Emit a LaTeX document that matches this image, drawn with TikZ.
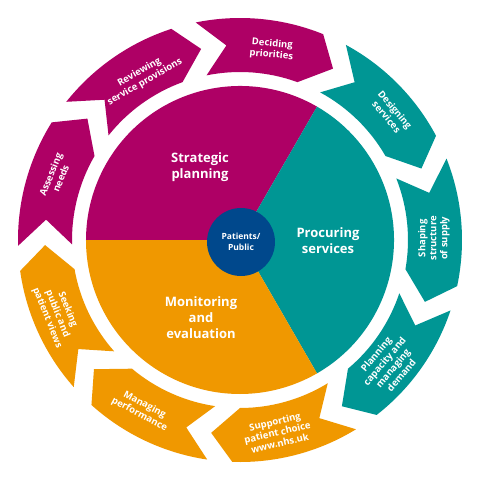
\documentclass[tikz,border=0pt]{standalone}
\usepackage{fontspec}
\setmainfont{Open Sans}
\usetikzlibrary{shapes.geometric}
\definecolor{planmagenta}{RGB}{174, 0, 101}
\definecolor{procteal}{RGB}{0, 150, 148}
\definecolor{monorange}{RGB}{240, 152, 0}
\definecolor{patientblue}{RGB}{0, 72, 140}
\tikzset{
ringtext/.style={
  align=center,
  text=white,
  inner sep=0pt,
  font=\bfseries\fontsize{9.5}{11}\selectfont
},
pietext/.style={
  align=center,
  text=white,
  font=\bfseries\fontsize{13}{16}\selectfont
},
patientdisc/.style={
  circle,
  fill=patientblue,
  minimum size=68pt,
  inner sep=0pt,
  align=center,
  text=white,
  font=\bfseries\fontsize{8.5}{10.5}\selectfont
}
}

\begin{document}
\begin{tikzpicture}[x=1pt, y=1pt,
    sector/.style={fill=#1},
    chevron/.style={fill=#1}
  ]
  \useasboundingbox (-240,-240) rectangle (240,240);
  \fill[white] (-240,-240) rectangle (240,240);

  \fill[sector=planmagenta] (0,0) -- (60:154) arc[start angle=60, end angle=180, radius=154pt] -- cycle;
  \fill[sector=procteal] (0,0) -- (-60:154) arc[start angle=-60, end angle=60, radius=154pt] -- cycle;
  \fill[sector=monorange] (0,0) -- (180:154) arc[start angle=180, end angle=300, radius=154pt] -- cycle;

  \foreach \a/\c in {100/planmagenta, 60/procteal, 20/procteal, -20/procteal,
                     -60/monorange, -100/monorange, -140/monorange,
                     180/planmagenta, 140/planmagenta}
    \fill[chevron=\c] ({\a+1.5}:222) -- ({\a-6}:195) -- ({\a+1.5}:168)
      arc[start angle=\a+1.5, end angle=\a-30, radius=168pt]
      -- ({\a-38.5}:195) -- ({\a-32}:222)
      arc[start angle=\a-32, end angle=\a+1.5, radius=222pt] -- cycle;

  \node[pietext] (strategic) at (-40,73) {Strategic\\planning};
  \node[pietext] (procuring) at (88,-1) {Procuring\\services};
  \node[pietext] (monitoring) at (-39,-78) {Monitoring\\and\\evaluation};
  \node[patientdisc] (patients) at (1,-2) {Patients/\\Public};

  \node[ringtext, rotate=-5]  (deciding)   at (80.5:193) {Deciding\\priorities};
  \node[ringtext, rotate=-50] (designing)  at (40:197)   {Designing\\services};
  \node[ringtext, rotate=90]  (shaping)    at (0.5:194)  {Shaping\\structure\\of supply};
  \node[ringtext, rotate=50]  (capacity)   at (-40:194)  {Planning\\capacity and\\managing\\demand};
  \node[ringtext, rotate=13]  (supporting) at (-79:196)  {Supporting\\patient choice\\www.nhs.uk};
  \node[ringtext, rotate=-28] (managing)   at (-120:196) {Managing\\performance};
  \node[ringtext, rotate=-68] (seeking)    at (-158:197) {Seeking\\public and\\patient views};
  \node[ringtext, rotate=68]  (assessing)  at (161:195)  {Assessing\\needs};
  \node[ringtext, rotate=30]  (reviewing)  at (121:190)  {Reviewing\\service provisions};
\end{tikzpicture}
\end{document}
